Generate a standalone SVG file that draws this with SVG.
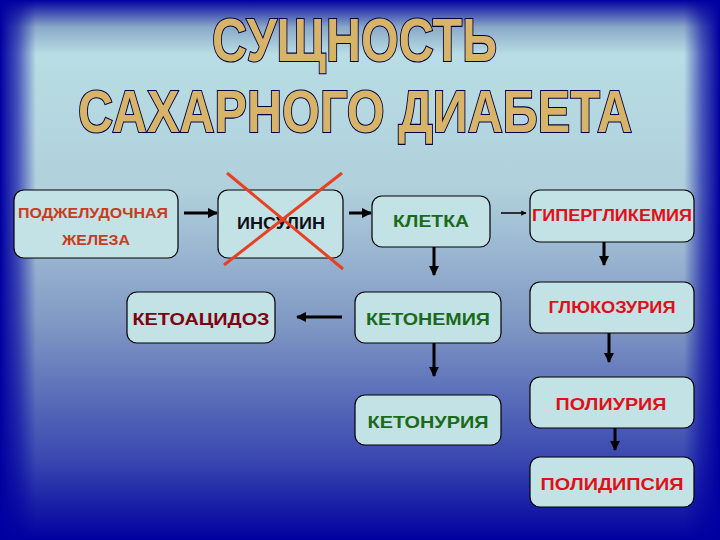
<svg xmlns="http://www.w3.org/2000/svg" width="720" height="540" viewBox="0 0 720 540">
<defs>
<linearGradient id="bgv" x1="0" y1="0" x2="0" y2="1">
<stop offset="0" stop-color="#0000a0"/>
<stop offset="0.05" stop-color="#8aa8c8"/>
<stop offset="0.1" stop-color="#b8dde4"/>
<stop offset="0.35" stop-color="#b0d0dc"/>
<stop offset="0.6" stop-color="#8098c4"/>
<stop offset="0.85" stop-color="#3a48b0"/>
<stop offset="1" stop-color="#0000a0"/>
</linearGradient>
<linearGradient id="bgh" x1="0" y1="0" x2="1" y2="0">
<stop offset="0" stop-color="#0000a0" stop-opacity="1"/>
<stop offset="0.025" stop-color="#0000a0" stop-opacity="0.6"/>
<stop offset="0.05" stop-color="#0000a0" stop-opacity="0"/>
<stop offset="0.95" stop-color="#0000a0" stop-opacity="0"/>
<stop offset="0.975" stop-color="#0000a0" stop-opacity="0.6"/>
<stop offset="1" stop-color="#0000a0" stop-opacity="1"/>
</linearGradient>
<marker id="ah" viewBox="0 0 10 10" refX="9" refY="5" markerWidth="3.5" markerHeight="3.5" orient="auto" markerUnits="strokeWidth">
<path d="M0,0 L10,5 L0,10 z" fill="#000"/>
</marker>
</defs>
<style>
.box{fill:#c2e2e6;stroke:#000;stroke-width:1.2}
.t{font-family:"Liberation Sans",Arial,sans-serif;font-weight:bold;text-anchor:middle}
.title{font-family:"Liberation Sans",Arial,sans-serif;font-weight:bold;fill:#d8b468;stroke:#000040;stroke-width:2.2;paint-order:stroke}
.c line{stroke:#000;stroke-width:3;marker-end:url(#ah)}
</style>
<rect width="720" height="540" fill="url(#bgv)"/>
<rect width="720" height="540" fill="url(#bgh)"/>
<g id="title">
<text class="title" x="212" y="61" font-size="62" textLength="285" lengthAdjust="spacingAndGlyphs">СУЩНОСТЬ</text>
<text class="title" x="78" y="132" font-size="60" textLength="554" lengthAdjust="spacingAndGlyphs">САХАРНОГО ДИАБЕТА</text>
</g>
<g id="n1"><rect class="box" x="14" y="190" width="164" height="68" rx="10"/>
<text class="t" x="93" y="218" font-size="14" fill="#c83c1e" textLength="150" lengthAdjust="spacingAndGlyphs">ПОДЖЕЛУДОЧНАЯ</text>
<text class="t" x="96" y="245" font-size="14" fill="#c83c1e" textLength="68" lengthAdjust="spacingAndGlyphs">ЖЕЛЕЗА</text></g>
<g id="n2"><rect class="box" x="218" y="190" width="125" height="68" rx="10"/>
<text class="t" x="281" y="229" font-size="17" fill="#101018" textLength="88" lengthAdjust="spacingAndGlyphs">ИНСУЛИН</text>
<line x1="227" y1="173" x2="343" y2="269" stroke="#e84020" stroke-width="3"/>
<line x1="342" y1="173" x2="224" y2="265" stroke="#e84020" stroke-width="3"/></g>
<g id="n3"><rect class="box" x="372" y="196" width="118" height="51" rx="10"/>
<text class="t" x="431" y="227" font-size="17" fill="#1a6a1a" textLength="76" lengthAdjust="spacingAndGlyphs">КЛЕТКА</text></g>
<g id="n4"><rect class="box" x="530" y="190" width="164" height="52" rx="10"/>
<text class="t" x="612" y="221" font-size="16" fill="#e01018" textLength="160" lengthAdjust="spacingAndGlyphs">ГИПЕРГЛИКЕМИЯ</text></g>
<g id="n5"><rect class="box" x="530" y="282" width="164" height="51" rx="10"/>
<text class="t" x="612" y="313" font-size="16" fill="#e01018" textLength="127" lengthAdjust="spacingAndGlyphs">ГЛЮКОЗУРИЯ</text></g>
<g id="n6"><rect class="box" x="530" y="377" width="164" height="51" rx="10"/>
<text class="t" x="611" y="410" font-size="17" fill="#e01018" textLength="111" lengthAdjust="spacingAndGlyphs">ПОЛИУРИЯ</text></g>
<g id="n7"><rect class="box" x="530" y="457" width="164" height="50" rx="10"/>
<text class="t" x="612" y="490" font-size="17" fill="#e01018" textLength="143" lengthAdjust="spacingAndGlyphs">ПОЛИДИПСИЯ</text></g>
<g id="n8"><rect class="box" x="355" y="292" width="146" height="51" rx="10"/>
<text class="t" x="428" y="325" font-size="17" fill="#1a6a1a" textLength="124" lengthAdjust="spacingAndGlyphs">КЕТОНЕМИЯ</text></g>
<g id="n9"><rect class="box" x="355" y="395" width="146" height="50" rx="10"/>
<text class="t" x="428" y="428" font-size="17" fill="#1a6a1a" textLength="121" lengthAdjust="spacingAndGlyphs">КЕТОНУРИЯ</text></g>
<g id="n10"><rect class="box" x="127" y="292" width="148" height="51" rx="10"/>
<text class="t" x="201" y="325" font-size="17" fill="#800010" textLength="137" lengthAdjust="spacingAndGlyphs">КЕТОАЦИДОЗ</text></g>
<g class="c" id="connectors">
<line x1="184" y1="213" x2="217" y2="213"/>
<line x1="349" y1="213" x2="371" y2="213"/>
<line x1="501" y1="213" x2="526" y2="213" style="stroke-width:1.5"/>
<line x1="604" y1="242" x2="604" y2="265"/>
<line x1="609" y1="333" x2="609" y2="362"/>
<line x1="615" y1="428" x2="615" y2="450"/>
<line x1="434" y1="247" x2="434" y2="275"/>
<line x1="434" y1="343" x2="434" y2="376"/>
<line x1="342" y1="317" x2="297" y2="317"/>
</g>
</svg>
